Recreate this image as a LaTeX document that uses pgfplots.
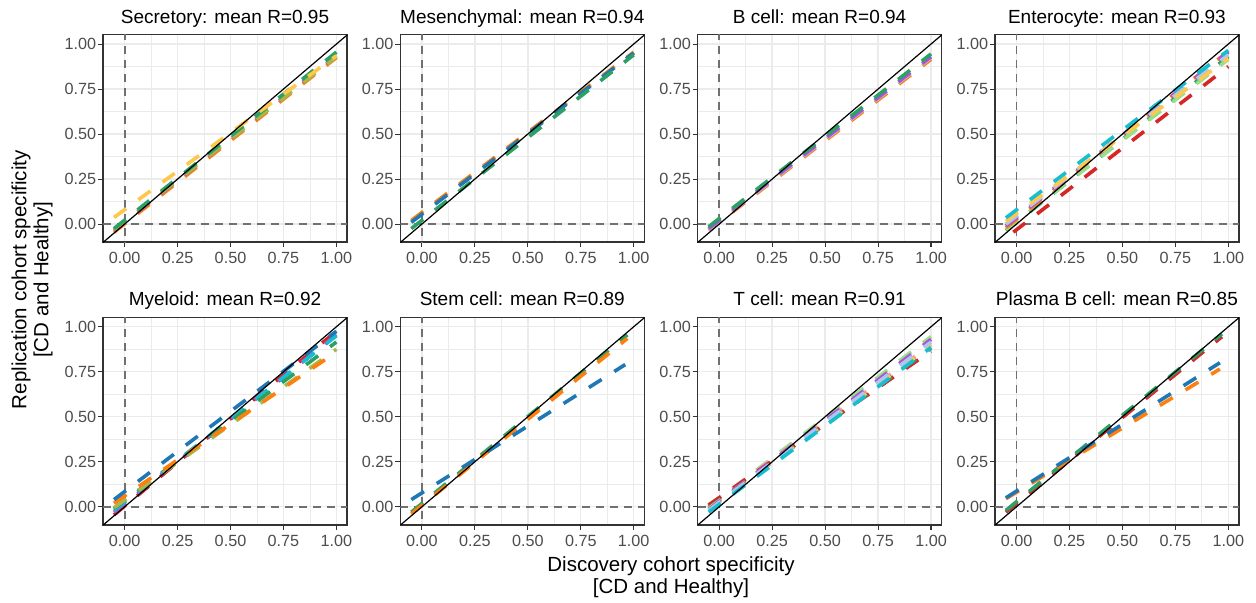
\documentclass[border=0pt]{standalone}
\usepackage{fontspec}
\setmainfont{Liberation Sans}
\usepackage{pgfplots}
\pgfplotsset{compat=1.18}
\usepgfplotslibrary{groupplots}
\usetikzlibrary{calc}
\definecolor{gridc}{HTML}{EBEBEB}
\definecolor{axc}{HTML}{333333}
\definecolor{tickc}{HTML}{4D4D4D}
\definecolor{refc}{HTML}{707070}
\definecolor{tblue}{HTML}{1F78B4}
\definecolor{torange}{HTML}{FF7F0E}
\definecolor{tgreen}{HTML}{2CA065}
\definecolor{tred}{HTML}{D62728}
\definecolor{tpurple}{HTML}{B04FDC}
\definecolor{tolive}{HTML}{A6B84A}
\definecolor{tcyan}{HTML}{17BECF}
\definecolor{tltblue}{HTML}{AEC7E8}
\definecolor{tltgreen}{HTML}{98DF8A}
\definecolor{tyellow}{HTML}{FFC84D}
\definecolor{tpink}{HTML}{FF9896}
\tikzset{
  dline/.style={line width=1.8pt, dash pattern=on 7.5pt off 7.5pt, line cap=butt},
  refline/.style={refc, line width=0.9pt, dash pattern=on 4pt off 3pt},
  diag/.style={black, line width=0.6pt}
}
% reference lines and the y = x line, drawn in every panel
\newcommand{\refs}{%
  \addplot[refline] coordinates {(-0.3,0) (1.3,0)};
  \addplot[refline] coordinates {(0,-0.3) (0,1.3)};
}
\newcommand{\diagline}{\addplot[diag] coordinates {(-0.3,-0.3) (1.3,1.3)};}

\begin{document}
\begin{tikzpicture}
\begin{groupplot}[
  group style={group size=4 by 2, horizontal sep=26.65pt, vertical sep=37.65pt},
  width=122pt, height=103.7pt, scale only axis,
  xmin=-0.102, xmax=1.05, ymin=-0.1, ymax=1.052,
  xtick={0,0.25,0.5,0.75,1}, ytick={0,0.25,0.5,0.75,1},
  xticklabels={0.00,0.25,0.50,0.75,1.00},
  yticklabels={0.00,0.25,0.50,0.75,1.00},
  minor tick num=1,
  grid=both,
  major grid style={draw=gridc, line width=0.7pt},
  minor grid style={draw=gridc, line width=0.35pt},
  tick align=outside, major tick length=2.5pt, minor tick length=0pt,
  xtick pos=bottom, ytick pos=left,
  tick style={draw=axc, line width=0.55pt},
  axis line style={draw=axc, line width=0.8pt},
  ticklabel style={font=\fontsize{8.1}{9}\selectfont, text=tickc},
  xticklabel style={anchor=north, inner sep=0pt, yshift=-2.4pt},
  yticklabel style={anchor=east, inner sep=0pt, xshift=-0.7pt},
  title style={font=\fontsize{9.5}{11}\selectfont, at={(0.5,1)}, anchor=base, yshift=-0.3pt},
  no markers,
]
% Secretory
\nextgroupplot[title={Secretory: mean R=0.95}]
\coordinate (tl) at (rel axis cs:0,1);
\refs
\addplot[dline, torange] coordinates {(-0.05,-0.045) (1.0,0.925)};
\addplot[dline, tpurple] coordinates {(-0.05,-0.035) (1.0,0.935)};
\addplot[dline, tolive] coordinates {(-0.05,-0.03) (1.0,0.93)};
\addplot[dline, tgreen] coordinates {(-0.05,-0.025) (1.0,0.955)};
\addplot[dline, tyellow] coordinates {(-0.05,0.037) (1.0,0.935)};
\diagline
% Mesenchymal
\nextgroupplot[title={Mesenchymal: mean R=0.94}]
\refs
\addplot[dline, torange] coordinates {(-0.05,0.02) (1.0,0.955)};
\addplot[dline, tblue] coordinates {(-0.05,0.01) (1.0,0.95)};
\addplot[dline, tgreen] coordinates {(-0.05,-0.025) (1.0,0.94)};
\diagline
% B cell
\nextgroupplot[title={B cell: mean R=0.94}]
\refs
\addplot[dline, torange] coordinates {(-0.05,-0.035) (1.0,0.915)};
\addplot[dline, tltblue] coordinates {(-0.05,-0.03) (1.0,0.925)};
\addplot[dline, tpurple] coordinates {(-0.05,-0.025) (1.0,0.93)};
\addplot[dline, tgreen] coordinates {(-0.05,-0.015) (1.0,0.945)};
\diagline
% Enterocyte
\nextgroupplot[title={Enterocyte: mean R=0.93}]
\refs
\addplot[dline, tgreen] coordinates {(-0.05,-0.035) (1.0,0.93)};
\addplot[dline, tltgreen] coordinates {(-0.05,-0.03) (1.0,0.915)};
\addplot[dline, torange] coordinates {(-0.05,-0.02) (1.0,0.96)};
\addplot[dline, tpurple] coordinates {(-0.05,-0.01) (1.0,0.955)};
\addplot[dline, tltblue] coordinates {(-0.05,0.0) (1.0,0.94)};
\addplot[dline, tyellow] coordinates {(-0.05,0.015) (1.0,0.92)};
\addplot[dline, tcyan] coordinates {(-0.05,0.035) (1.0,0.965)};
\addplot[dline, tred] coordinates {(-0.015,-0.045) (1.0,0.875)};
\diagline
% Myeloid
\nextgroupplot[title={Myeloid: mean R=0.92}]
\refs
\addplot[dline, tred] coordinates {(-0.05,-0.045) (1.0,0.975)};
\addplot[dline, tpurple] coordinates {(-0.05,-0.03) (1.0,0.955)};
\addplot[dline, tcyan] coordinates {(-0.05,-0.02) (1.0,0.95)};
\addplot[dline, tgreen] coordinates {(-0.05,-0.01) (1.0,0.915)};
\addplot[dline, tolive] coordinates {(-0.05,-0.005) (1.0,0.875)};
\addplot[dline, torange] coordinates {(-0.05,0.02) (1.0,0.86)};
\addplot[dline, tblue] coordinates {(-0.05,0.04) (1.0,0.975)};
\diagline
% Stem cell
\nextgroupplot[title={Stem cell: mean R=0.89}]
\refs
\addplot[dline, tgreen] coordinates {(-0.05,-0.03) (0.97,0.955)};
\addplot[dline, torange] coordinates {(-0.05,-0.04) (0.97,0.935)};
\addplot[dline, tblue] coordinates {(-0.05,0.04) (0.96,0.79)};
\diagline
% T cell
\nextgroupplot[title={T cell: mean R=0.91}]
\refs
\addplot[dline, tltgreen] coordinates {(-0.05,0.0) (1.0,0.945)};
\addplot[dline, tpink] coordinates {(-0.05,0.005) (1.0,0.90)};
\addplot[dline, tred] coordinates {(-0.05,0.01) (1.0,0.865)};
\addplot[dline, tgreen] coordinates {(-0.05,-0.005) (1.0,0.88)};
\addplot[dline, tyellow] coordinates {(-0.05,-0.01) (1.0,0.895)};
\addplot[dline, tpurple] coordinates {(-0.05,-0.015) (1.0,0.93)};
\addplot[dline, tltblue] coordinates {(-0.05,-0.02) (1.0,0.915)};
\addplot[dline, tcyan] coordinates {(-0.05,-0.03) (1.0,0.885)};
\diagline
% Plasma B cell
\nextgroupplot[title={Plasma B cell: mean R=0.85}]
\refs
\addplot[dline, tred] coordinates {(-0.05,-0.03) (0.97,0.945)};
\addplot[dline, tgreen] coordinates {(-0.05,-0.02) (0.97,0.96)};
\addplot[dline, torange] coordinates {(-0.05,0.045) (0.96,0.765)};
\addplot[dline, tblue] coordinates {(-0.05,0.05) (0.96,0.80)};
\diagline
\end{groupplot}
\node[rotate=90, anchor=north, inner sep=0pt, align=center,
  font=\fontsize{10.25}{11}\selectfont]
  at ($(tl)+(-46pt,-122.5pt)$) {Replication cohort specificity\\\relax [CD and Healthy]};
\node[anchor=north, inner sep=0pt, align=center,
  font=\fontsize{10.25}{11}\selectfont]
  at ($(tl)+(284pt,-260.65pt)$) {Discovery cohort specificity\\\relax [CD and Healthy]};
\pgfresetboundingbox
\path[use as bounding box] ($(tl)+(-51.5pt,17.35pt)$) rectangle ++(628pt,-301.5pt);
\end{tikzpicture}
\end{document}
